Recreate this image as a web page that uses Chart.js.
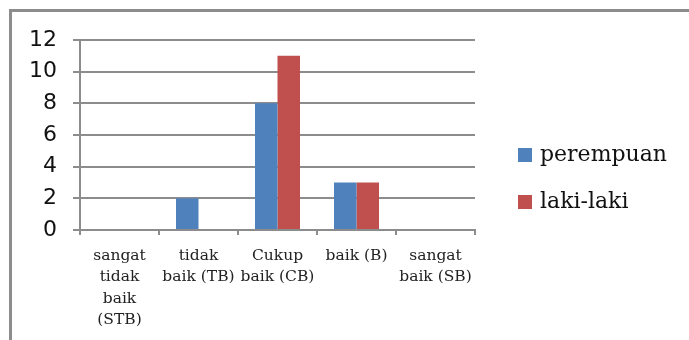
<!DOCTYPE html>
<html>
<head>
<meta charset="utf-8">
<script src="https://cdn.jsdelivr.net/npm/chart.js@4"></script>
<style>
  html, body { margin: 0; padding: 0; background: #fff; overflow: hidden; width: 689px; height: 340px; }
  #wrap { position: relative; width: 689px; height: 340px; overflow: hidden; background: #fff; }
  .rule { position: absolute; background: #8c8c8c; }
  #ruleTop { left: 9px; top: 9px; width: 680px; height: 3px; }
  #ruleLeft { left: 9px; top: 9px; width: 3px; height: 331px; }
  #box { position: absolute; left: 0; top: 0; width: 689px; height: 340px; }
</style>
</head>
<body>
<div id="wrap">
  <div class="rule" id="ruleTop"></div>
  <div class="rule" id="ruleLeft"></div>
  <div id="box"><canvas id="c"></canvas></div>
</div>
<script>
// Rating categories (multi-line labels)
const categories = [
  ["sangat", "tidak", "baik", "(STB)"],
  ["tidak", "baik (TB)"],
  ["Cukup", "baik (CB)"],
  ["baik (B)"],
  ["sangat", "baik (SB)"]
];
const perempuan = [0, 2, 8, 3, 0];
const lakiLaki = [0, 0, 11, 3, 0];
const yTicks = [0, 2, 4, 6, 8, 10, 12];

const gridColor = '#8c8c8c';

// Legend drawn to the right of the plot, one row per dataset
const sideLegend = {
  id: 'sideLegend',
  afterDraw(chart) {
    const ctx = chart.ctx;
    const x = chart.chartArea.right + 43;
    const top = 148;
    const step = 47;
    const size = 14;
    ctx.save();
    ctx.font = '22px "DejaVu Serif"';
    ctx.textBaseline = 'middle';
    ctx.textAlign = 'left';
    chart.data.datasets.forEach((ds, i) => {
      const y = top + i * step;
      ctx.fillStyle = ds.backgroundColor;
      ctx.fillRect(x, y, size, size);
      ctx.fillStyle = '#111';
      ctx.fillText(ds.label, x + size + 8, y + size / 2);
    });
    ctx.restore();
  }
};

new Chart(document.getElementById('c'), {
  type: 'bar',
  data: {
    labels: categories,
    datasets: [
      { label: 'perempuan', data: perempuan, backgroundColor: '#4f81bd',
        categoryPercentage: 0.57, barPercentage: 1.0 },
      { label: 'laki-laki', data: lakiLaki, backgroundColor: '#c0504d',
        categoryPercentage: 0.57, barPercentage: 1.0 }
    ]
  },
  plugins: [sideLegend],
  options: {
    responsive: true,
    maintainAspectRatio: false,
    animation: false,
    layout: { padding: { top: 40, left: 0, right: 214, bottom: 0 } },
    plugins: {
      tooltip: { enabled: false },
      legend: { display: false }
    },
    scales: {
      x: {
        afterFit: (scale) => { scale.height = 110; },
        grid: {
          display: true,
          drawOnChartArea: false,
          offset: true,
          color: gridColor,
          lineWidth: 2,
          tickLength: 5
        },
        border: { display: true, color: gridColor, width: 2 },
        ticks: {
          font: { family: 'DejaVu Serif', size: 15.5, lineHeight: 1.38 },
          color: '#222',
          maxRotation: 0,
          autoSkip: false,
          padding: 10
        }
      },
      y: {
        min: 0,
        max: 12,
        afterFit: (scale) => { scale.width = 80; },
        afterBuildTicks: (axis) => { axis.ticks = yTicks.map(v => ({ value: v })); },
        grid: { color: gridColor, lineWidth: 2, tickLength: 7 },
        border: { display: true, color: gridColor, width: 2 },
        ticks: {
          font: { family: 'DejaVu Sans', size: 22 },
          color: '#111',
          padding: 16
        }
      }
    }
  }
});
</script>
</body>
</html>
